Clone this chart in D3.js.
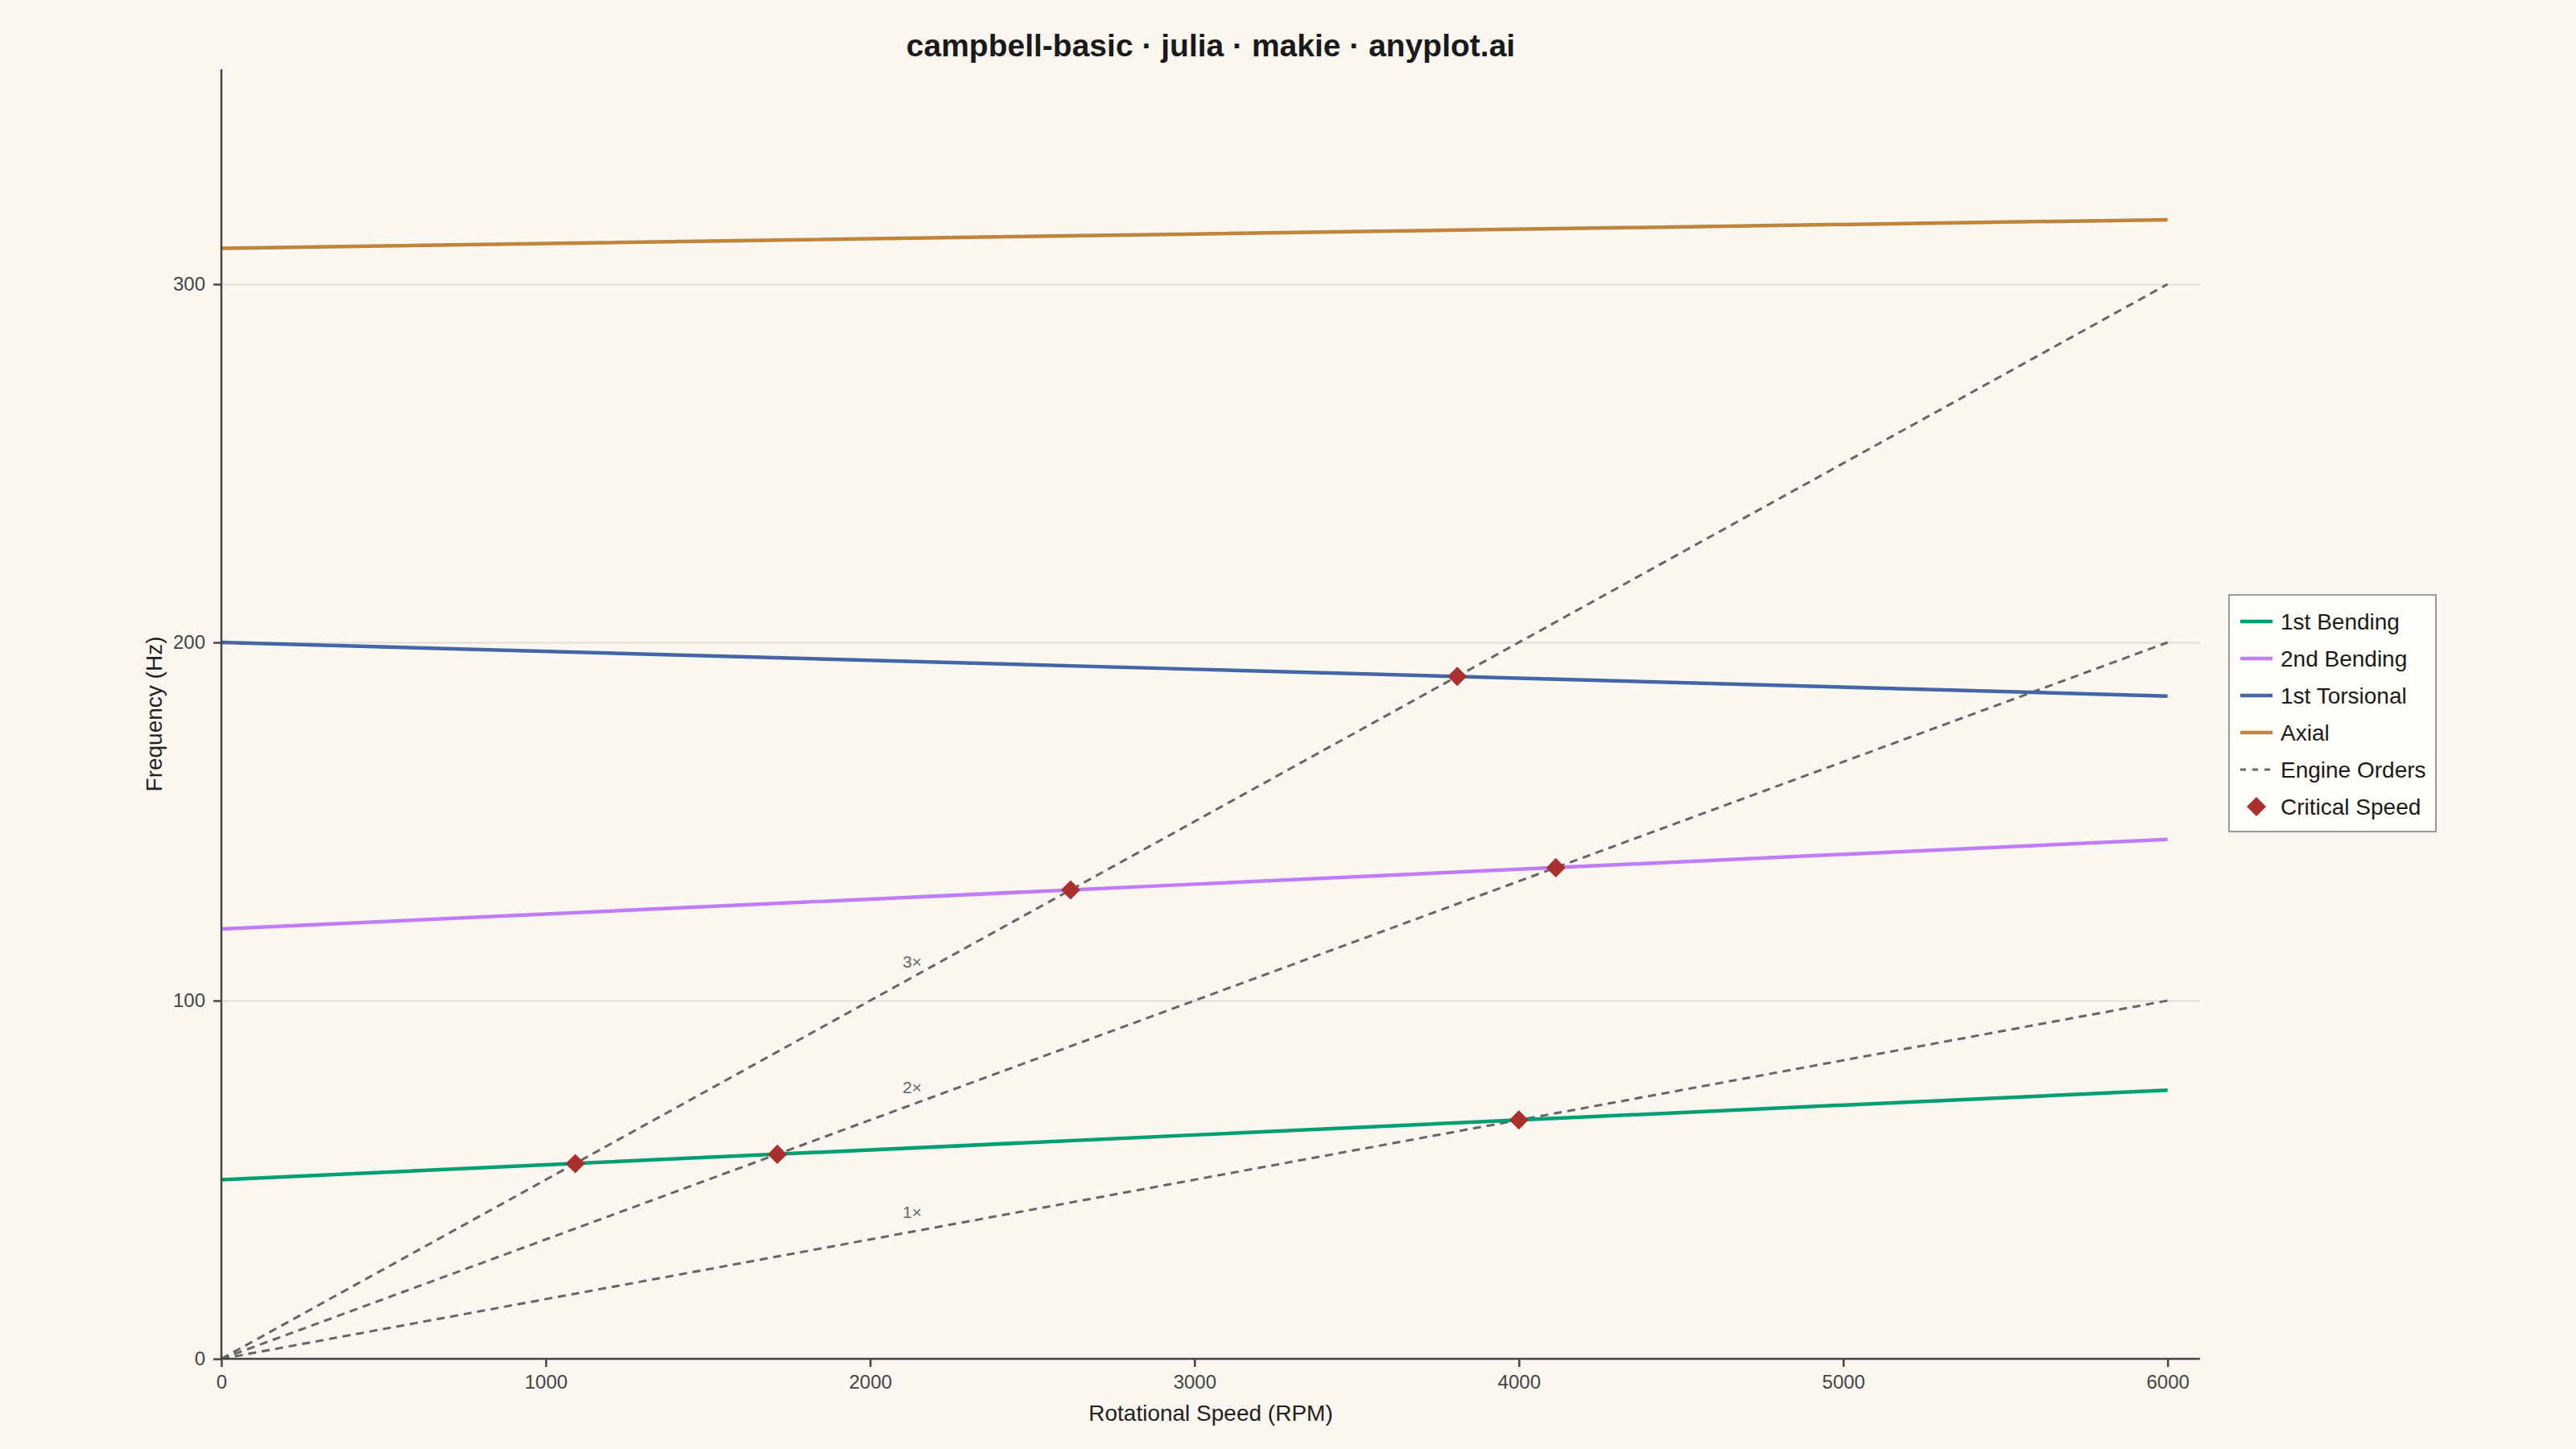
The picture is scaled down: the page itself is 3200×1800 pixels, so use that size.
<!DOCTYPE html>
<html>
<head>
<meta charset="utf-8">
<script src="https://cdn.jsdelivr.net/npm/d3@7"></script>
<style>
  body { margin: 0; background: #FAF7F0; }
  text { font-family: "Liberation Sans", Arial, sans-serif; }
</style>
</head>
<body>
<div id="chart"></div>
<script>
// data
const rpm = [0, 3000, 6000];
const modeNames = ["1st Bending", "2nd Bending", "1st Torsional", "Axial"];
const bending1 = [50, 62.5, 75];
const bending2 = [120, 132.5, 145];
const torsional1 = [200, 192.5, 185];
const axial = [310, 314, 318];
const modeColors = ["#009E73", "#C27CFA", "#4466A6", "#C0843A"];

const orders = [1, 2, 3];
const orderRpm = [0, 6000];
const orderHz = [[0, 100], [0, 200], [0, 300]];
const orderLabelRpm = 2100;
const orderLabelHz = [39.3, 74.2, 109.2];

const critRpm = [1091, 1714, 4000, 2618, 4114, 3810];
const critHz = [54.5, 57.1, 66.7, 130.9, 137.1, 190.5];

const xTicks = [0, 1000, 2000, 3000, 4000, 5000, 6000];
const yTicks = [0, 100, 200, 300];

const W = 3200, H = 1800;
const margin = {top: 86, right: 467, bottom: 112, left: 275};
const width = W - margin.left - margin.right,
      height = H - margin.top - margin.bottom;

const svg = d3.select("#chart").append("svg")
    .attr("width", W).attr("height", H)
    .style("background", "#FAF7F0");

const g = svg.append("g")
    .attr("transform", `translate(${margin.left},${margin.top})`);

const x = d3.scaleLinear().domain([0, 6100]).range([0, width]);
const y = d3.scaleLinear().domain([0, 360]).range([height, 0]);

// grid
g.append("g")
    .call(d3.axisLeft(y).tickValues(yTicks.slice(1)).tickSize(-width).tickFormat(""))
    .call(a => a.select(".domain").remove())
    .selectAll("line").attr("stroke", "#E2DED6").attr("stroke-width", 2);

g.append("defs").append("clipPath").attr("id", "clip")
    .append("rect").attr("width", width).attr("height", height);

const plot = g.append("g").attr("clip-path", "url(#clip)");

// engine orders
const line = d3.line().x(d => x(d[0])).y(d => y(d[1]));
orders.forEach((o, i) => {
    plot.append("path")
        .datum(orderRpm.map((r, j) => [r, orderHz[i][j]]))
        .attr("fill", "none")
        .attr("stroke", "#666")
        .attr("stroke-width", 3)
        .attr("stroke-dasharray", "10,7")
        .attr("d", line);
    g.append("text")
        .attr("x", x(orderLabelRpm))
        .attr("y", y(orderLabelHz[i]))
        .attr("fill", "#666")
        .attr("font-size", 21)
        .text(o + "×");
});

// modes
const modes = [bending1, bending2, torsional1, axial];
modes.forEach((vals, i) => {
    plot.append("path")
        .datum(rpm.map((r, j) => [r, vals[j]]))
        .attr("fill", "none")
        .attr("stroke", modeColors[i])
        .attr("stroke-width", 4.5)
        .attr("d", line);
});

// critical speeds
const diamond = d3.symbol().type(d3.symbolSquare).size(290);
g.selectAll(".crit")
    .data(critRpm.map((r, i) => [r, critHz[i]]))
    .join("path")
    .attr("class", "crit")
    .attr("d", diamond)
    .attr("fill", "#AA3030")
    .attr("transform", d => `translate(${x(d[0])},${y(d[1])}) rotate(45)`);

// axes
const xAxis = g.append("g")
    .attr("transform", `translate(0,${height})`)
    .call(d3.axisBottom(x).tickValues(xTicks).tickSize(10).tickPadding(10).tickFormat(d3.format("d")));
const yAxis = g.append("g")
    .call(d3.axisLeft(y).tickValues(yTicks).tickSize(10).tickPadding(10).tickFormat(d3.format("d")));
[xAxis, yAxis].forEach(a => {
    a.select(".domain").attr("stroke", "#444").attr("stroke-width", 2.5);
    a.selectAll(".tick line").attr("stroke", "#444").attr("stroke-width", 2.5);
    a.selectAll(".tick text").attr("fill", "#444").attr("font-size", 24)
        .style("font-family", '"Liberation Sans", Arial, sans-serif');
});
xAxis.select(".domain").attr("d", `M0,0H${width}`);
yAxis.select(".domain").attr("d", `M0,${height}V0`);

// titles
svg.append("text")
    .attr("x", margin.left + width / 2).attr("y", 70)
    .attr("text-anchor", "middle")
    .attr("font-size", 39).attr("font-weight", "bold").attr("fill", "#1a1a1a")
    .text("campbell-basic · julia · makie · anyplot.ai");

svg.append("text")
    .attr("x", margin.left + width / 2).attr("y", 1765)
    .attr("text-anchor", "middle")
    .attr("font-size", 28).attr("fill", "#222")
    .text("Rotational Speed (RPM)");

svg.append("text")
    .attr("transform", `translate(201,${margin.top + height / 2}) rotate(-90)`)
    .attr("text-anchor", "middle")
    .attr("font-size", 28).attr("fill", "#222")
    .text("Frequency (Hz)");

// legend
const legend = svg.append("g").attr("transform", "translate(2769,739)");
legend.append("rect")
    .attr("width", 257).attr("height", 294)
    .attr("fill", "#FFFDF7").attr("stroke", "#999").attr("stroke-width", 2);
const items = modeNames.map((n, i) => ({name: n, type: "line", color: modeColors[i]}))
    .concat([{name: "Engine Orders", type: "dash", color: "#666"},
             {name: "Critical Speed", type: "marker", color: "#AA3030"}]);
items.forEach((it, i) => {
    const row = legend.append("g").attr("transform", `translate(0,${33 + i * 46})`);
    if (it.type === "marker") {
        row.append("path").attr("d", diamond).attr("fill", it.color)
            .attr("transform", "translate(34,0) rotate(45)");
    } else {
        row.append("line").attr("x1", 14).attr("x2", 54)
            .attr("stroke", it.color)
            .attr("stroke-width", it.type === "dash" ? 3 : 4.5)
            .attr("stroke-dasharray", it.type === "dash" ? "7,8" : null);
    }
    row.append("text").attr("x", 64).attr("dy", "0.35em")
        .attr("font-size", 28).attr("fill", "#1a1a1a")
        .text(it.name);
});
</script>
</body>
</html>
